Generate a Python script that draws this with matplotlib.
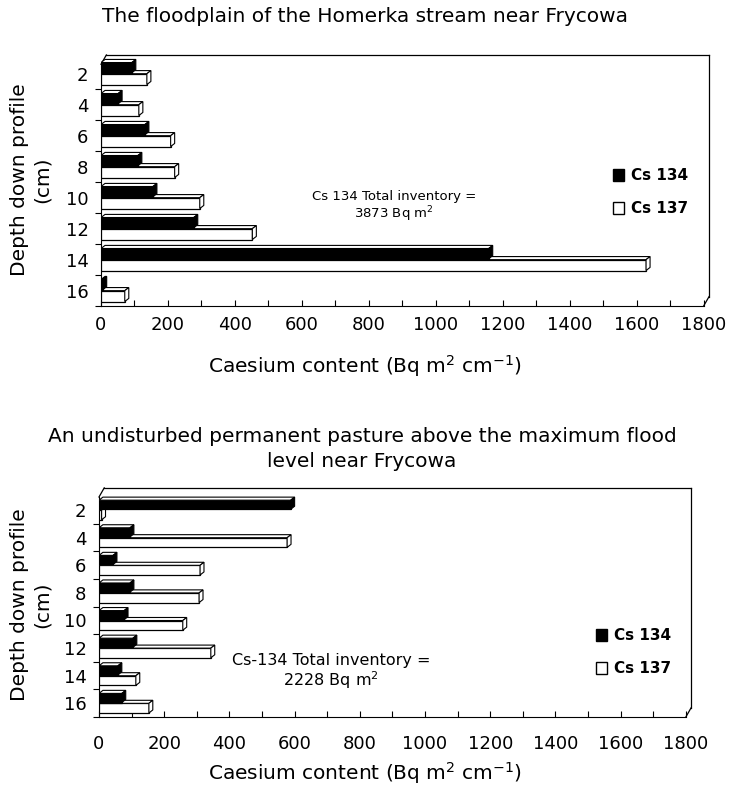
import matplotlib
matplotlib.use("Agg")
import matplotlib.pyplot as plt
from matplotlib.patches import Polygon, Patch
from matplotlib.ticker import MultipleLocator, FixedLocator

# depth (cm) down the profile
depths = [2, 4, 6, 8, 10, 12, 14, 16]

# caesium content, Bq m^2 cm^-1
flood_cs134 = [92, 51, 131, 110, 155, 277, 1158, 5]
flood_cs137 = [137, 113, 208, 220, 295, 452, 1628, 71]
pasture_cs134 = [588, 95, 43, 95, 77, 104, 58, 70]
pasture_cs137 = [8, 577, 310, 307, 257, 343, 113, 153]

x_ticks = list(range(0, 1801, 200))


def bar3d(ax, y, h, v, face, side, ddx, ddy, z):
    """Flat front face plus a top and a side face to fake the 3D look."""
    ax.barh(y, v, height=h, color=face, edgecolor="black", linewidth=0.9,
            zorder=z)
    top = y - h / 2
    bot = y + h / 2
    ax.add_patch(Polygon([(0, top), (v, top), (v + ddx, top - ddy),
                          (ddx, top - ddy)], closed=True, facecolor="white",
                         edgecolor="black", linewidth=0.8, zorder=z))
    ax.add_patch(Polygon([(v, top), (v, bot), (v + ddx, bot - ddy),
                          (v + ddx, top - ddy)], closed=True, facecolor=side,
                         edgecolor="black", linewidth=0.8, zorder=z))


def panel(ax, cs134, cs137, ytop, ddy, back_dy, note, note_xy, note_size,
          leg_anchor, xpad):
    pos = list(range(len(depths)))
    ddx = 12
    back_dx = 16
    for i in pos:
        bar3d(ax, i + 0.18, 0.35, cs137[i], "white", "white", ddx, ddy, 3)
        bar3d(ax, i - 0.19, 0.33, cs134[i], "black", "black", ddx, ddy, 4)

    ax.set_xlim(0, 1825)
    ax.set_ylim(7.5, ytop)
    front_top = ytop + 0.05 + back_dy
    back_top = ytop + 0.05

    for s in ["top", "right"]:
        ax.spines[s].set_visible(False)
    ax.spines["left"].set_bounds(7.5, front_top)
    ax.spines["bottom"].set_bounds(0, 1800)
    # back wall of the 3D box
    kw = dict(color="black", linewidth=0.9, clip_on=False, zorder=1)
    ax.plot([back_dx, 1800 + back_dx], [back_top, back_top], **kw)
    ax.plot([1800 + back_dx, 1800 + back_dx], [7.5 - back_dy, back_top], **kw)
    ax.plot([0, back_dx], [front_top, back_top], **kw)
    ax.plot([1800, 1800 + back_dx], [7.5, 7.5 - back_dy], **kw)

    ax.set_xticks(x_ticks)
    ax.xaxis.set_minor_locator(MultipleLocator(100))
    ax.tick_params(axis="x", which="both", direction="in", length=4,
                   width=0.8, pad=xpad)
    ax.set_yticks(pos)
    ax.set_yticklabels([str(d) for d in depths])
    ax.yaxis.set_minor_locator(FixedLocator([p + 0.5 for p in pos]))
    ax.tick_params(axis="y", which="major", length=0, pad=9)
    ax.tick_params(axis="y", which="minor", direction="out", length=4,
                   width=0.8)
    ax.tick_params(labelsize=13)

    ax.text(note_xy[0], note_xy[1], note, transform=ax.transAxes,
            ha="center", va="center", fontsize=note_size, linespacing=1.1)

    handles = [Patch(facecolor="black", edgecolor="black", label="Cs 134"),
               Patch(facecolor="white", edgecolor="black", label="Cs 137")]
    ax.legend(handles=handles, loc="upper left", frameon=False,
              bbox_to_anchor=leg_anchor, bbox_transform=fig.transFigure,
              prop={"size": 11, "weight": "semibold"}, handlelength=0.7,
              handleheight=0.8, handletextpad=0.5, labelspacing=1.2,
              borderpad=0, borderaxespad=0)


fig = plt.figure(figsize=(7.3, 7.89), dpi=100)

ax1 = fig.add_axes([101 / 730, (789 - 306) / 789, 611 / 730, 252.6 / 789])
panel(ax1, flood_cs134, flood_cs137, -0.65, 0.1, 0.3,
      "Cs 134 Total inventory =\n3873 Bq m$^{2}$", (0.48, 0.39), 9.5,
      (613 / 730, 1 - 168 / 789), 7)

ax2 = fig.add_axes([99 / 730, (789 - 717) / 789, 595 / 730, 230.5 / 789])
panel(ax2, pasture_cs134, pasture_cs137, -0.85, 0.11, 0.33,
      "Cs-134 Total inventory =\n2228 Bq m$^{2}$", (0.39, 0.195), 11.5,
      (596 / 730, 1 - 628 / 789), 13)

fig.text(365 / 730, 1 - 16 / 789,
         "The floodplain of the Homerka stream near Frycowa",
         ha="center", va="center", fontsize=14.5)
fig.text(362 / 730, 1 - 449 / 789,
         "An undisturbed permanent pasture above the maximum flood\n"
         "level near Frycowa",
         ha="center", va="center", fontsize=14.5, linespacing=1.35)

xlabel = "Caesium content (Bq m$^{2}$ cm$^{-1}$)"
fig.text(365 / 730, 1 - 366 / 789, xlabel, ha="center", va="center",
         fontsize=14.5)
fig.text(365 / 730, 1 - 773 / 789, xlabel, ha="center", va="center",
         fontsize=14.5)

ylabel = "Depth down profile\n(cm)"
fig.text(31 / 730, 1 - 180 / 789, ylabel, ha="center", va="center",
         rotation=90, fontsize=14.5, linespacing=1.2)
fig.text(31 / 730, 1 - 605 / 789, ylabel, ha="center", va="center",
         rotation=90, fontsize=14.5, linespacing=1.2)

fig.savefig("out.png", dpi=100)
